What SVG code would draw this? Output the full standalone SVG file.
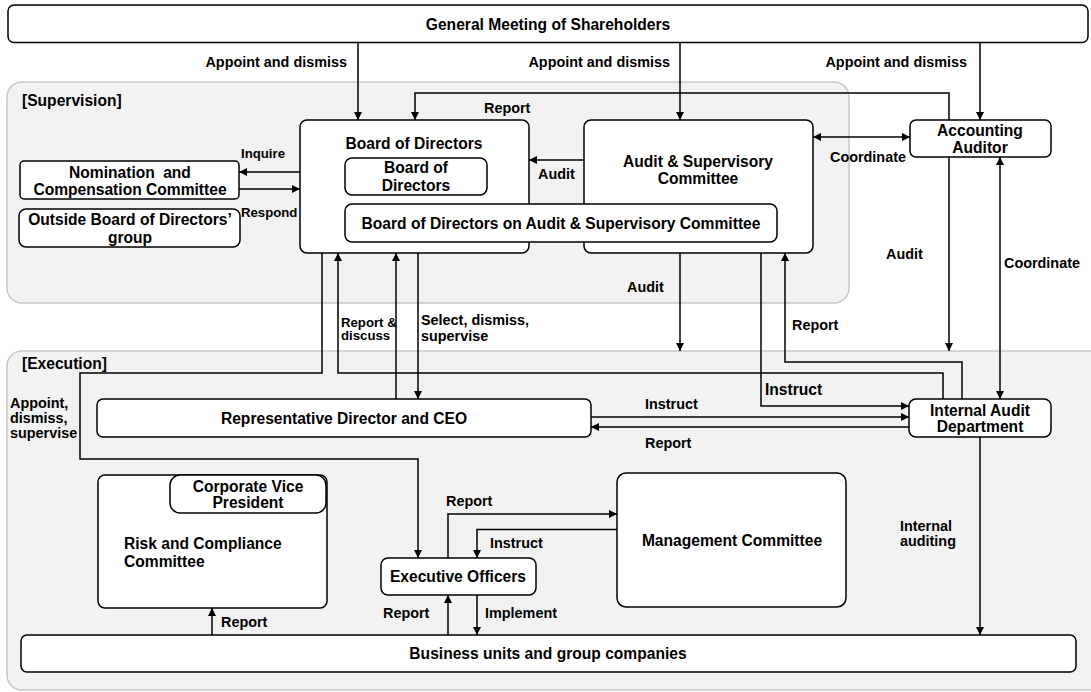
<svg xmlns="http://www.w3.org/2000/svg" width="1091" height="692" viewBox="0 0 1091 692">
<style>
text{font-family:"Liberation Sans",Arial,sans-serif;font-weight:bold;fill:#000}
.n{font-size:15.6px;text-anchor:middle}
.l{font-size:14.4px}
.s{font-size:13.2px}
.box{fill:#fff;stroke:#000;stroke-width:1.5}
.panel{fill:#f2f2f2;stroke:#c8c8c8;stroke-width:1.5}
.c{fill:none;stroke:#000;stroke-width:1.5}
</style>
<defs>
<marker id="a" viewBox="0 0 10 10" refX="10" refY="5" markerWidth="8" markerHeight="8" markerUnits="userSpaceOnUse" orient="auto-start-reverse"><path d="M0 0L10 5L0 10z" fill="#000"/></marker>
</defs>
<g id="panels">
<rect class="panel" x="7" y="82" width="842" height="221" rx="15"/>
<rect class="panel" x="7" y="351" width="1100" height="339" rx="15"/>
<text class="n" x="22" y="105.5" style="text-anchor:start">[Supervision]</text>
<text class="n" x="22" y="368.8" style="text-anchor:start">[Execution]</text>
</g>
<g id="connectors">
<path class="c" d="M358 42.5V120" marker-end="url(#a)"/>
<path class="c" d="M680 42.5V120" marker-end="url(#a)"/>
<path class="c" d="M980 42.5V120" marker-end="url(#a)"/>
<path class="c" d="M949 120V93H415V120" marker-end="url(#a)"/>
<path class="c" d="M813 137H910" marker-start="url(#a)" marker-end="url(#a)"/>
<path class="c" d="M584 160H529" marker-end="url(#a)"/>
<path class="c" d="M300 172H239" marker-end="url(#a)"/>
<path class="c" d="M239 189H300" marker-end="url(#a)"/>
<path class="c" d="M322 253V373H80V459H418V558" marker-end="url(#a)"/>
<path class="c" d="M943 399V373H338V253" marker-end="url(#a)"/>
<path class="c" d="M396 399V253" marker-end="url(#a)"/>
<path class="c" d="M418 253V399" marker-end="url(#a)"/>
<path class="c" d="M680 253V351" marker-end="url(#a)"/>
<path class="c" d="M761 253V406H909" marker-end="url(#a)"/>
<path class="c" d="M962 399V362H785V253" marker-end="url(#a)"/>
<path class="c" d="M949 157V351" marker-end="url(#a)"/>
<path class="c" d="M1000 157V399" marker-start="url(#a)" marker-end="url(#a)"/>
<path class="c" d="M591 417H909" marker-end="url(#a)"/>
<path class="c" d="M909 427H591" marker-end="url(#a)"/>
<path class="c" d="M980 437V635" marker-end="url(#a)"/>
<path class="c" d="M448 558V514H617" marker-end="url(#a)"/>
<path class="c" d="M617 529.5H477V558" marker-end="url(#a)"/>
<path class="c" d="M448 635V595" marker-end="url(#a)"/>
<path class="c" d="M477 595V635" marker-end="url(#a)"/>
<path class="c" d="M212 635V608" marker-end="url(#a)"/>
<text class="l" x="347" y="67" text-anchor="end">Appoint and dismiss</text>
<text class="l" x="670" y="67" text-anchor="end">Appoint and dismiss</text>
<text class="l" x="967" y="67" text-anchor="end">Appoint and dismiss</text>
<text class="l" x="484" y="113">Report</text>
<text class="s" x="241" y="158">Inquire</text>
<text class="s" x="241" y="217">Respond</text>
<text class="l" x="538" y="179">Audit</text>
<text class="l" x="830" y="162">Coordinate</text>
<text class="l" x="886" y="259">Audit</text>
<text class="l" x="1004" y="268">Coordinate</text>
<text class="l" x="627" y="292">Audit</text>
<text class="l" x="792" y="330">Report</text>
<text class="s" x="341" y="327">Report &amp;</text>
<text class="s" x="341" y="340.4">discuss</text>
<text class="l" x="421" y="325">Select, dismiss,</text>
<text class="l" x="421" y="340.7">supervise</text>
<text class="l" x="10" y="408.3">Appoint,</text>
<text class="l" x="10" y="423.3">dismiss,</text>
<text class="l" x="10" y="438.3">supervise</text>
<text class="n" x="765" y="394.8" style="text-anchor:start">Instruct</text>
<text class="l" x="645" y="409.3">Instruct</text>
<text class="l" x="645" y="448.3">Report</text>
<text class="l" x="900" y="530.7">Internal</text>
<text class="l" x="900" y="546">auditing</text>
<text class="l" x="446" y="505.7">Report</text>
<text class="l" x="490" y="548.3">Instruct</text>
<text class="l" x="383" y="618.3">Report</text>
<text class="l" x="485" y="617.7">Implement</text>
<text class="l" x="221" y="626.7">Report</text>
</g>
<g id="general-meeting">
<rect class="box" x="8" y="5" width="1080" height="37.5" rx="6"/>
<text class="n" x="548" y="29.5">General Meeting of Shareholders</text>
</g>
<g id="board-of-directors">
<rect class="box" x="300" y="120" width="229" height="133" rx="7"/>
<text class="n" x="414" y="148.5">Board of Directors</text>
</g>
<g id="board-inner">
<rect class="box" x="345" y="158" width="142" height="37" rx="7"/>
<text class="n" x="416" y="172.5">Board of</text>
<text class="n" x="416" y="190.5">Directors</text>
</g>
<g id="audit-supervisory-committee">
<rect class="box" x="584" y="120" width="229" height="133" rx="7"/>
<text class="n" x="698" y="166.5">Audit &amp; Supervisory</text>
<text class="n" x="698" y="184">Committee</text>
</g>
<g id="board-on-asc">
<rect class="box" x="345" y="204" width="432" height="38" rx="7"/>
<text class="n" x="561" y="228.8">Board of Directors on Audit &amp; Supervisory Committee</text>
</g>
<g id="accounting-auditor">
<rect class="box" x="910" y="120" width="141" height="37" rx="6"/>
<text class="n" x="980" y="135.5">Accounting</text>
<text class="n" x="980" y="153.2">Auditor</text>
</g>
<g id="nomination-committee">
<rect class="box" x="20" y="161" width="219" height="38" rx="4"/>
<text class="n" x="130" y="177.5" style="word-spacing:4px">Nomination and</text>
<text class="n" x="130" y="194.5">Compensation Committee</text>
</g>
<g id="outside-board">
<rect class="box" x="19" y="209" width="221" height="38" rx="7"/>
<text class="n" x="130" y="224.5">Outside Board of Directors’</text>
<text class="n" x="130" y="242.5">group</text>
</g>
<g id="ceo">
<rect class="box" x="97" y="399" width="494" height="38" rx="6"/>
<text class="n" x="344" y="423.5">Representative Director and CEO</text>
</g>
<g id="internal-audit">
<rect class="box" x="909" y="399" width="142" height="38" rx="7"/>
<text class="n" x="980" y="415.5">Internal Audit</text>
<text class="n" x="980" y="432.2">Department</text>
</g>
<g id="risk-compliance">
<rect class="box" x="98" y="475" width="229" height="133" rx="7"/>
<text class="n" x="124" y="548.8" style="text-anchor:start">Risk and Compliance</text>
<text class="n" x="124" y="566.5" style="text-anchor:start">Committee</text>
</g>
<g id="corporate-vp">
<rect class="box" x="170" y="475" width="156" height="38" rx="10"/>
<text class="n" x="248" y="491.5">Corporate Vice</text>
<text class="n" x="248" y="508.2">President</text>
</g>
<g id="executive-officers">
<rect class="box" x="381" y="558" width="155" height="37" rx="7"/>
<text class="n" x="458" y="582.2">Executive Officers</text>
</g>
<g id="management-committee">
<rect class="box" x="617" y="473" width="229" height="134" rx="9"/>
<text class="n" x="732" y="545.5">Management Committee</text>
</g>
<g id="business-units">
<rect class="box" x="21" y="635" width="1055" height="37" rx="6"/>
<text class="n" x="548" y="658.8">Business units and group companies</text>
</g>
</svg>
